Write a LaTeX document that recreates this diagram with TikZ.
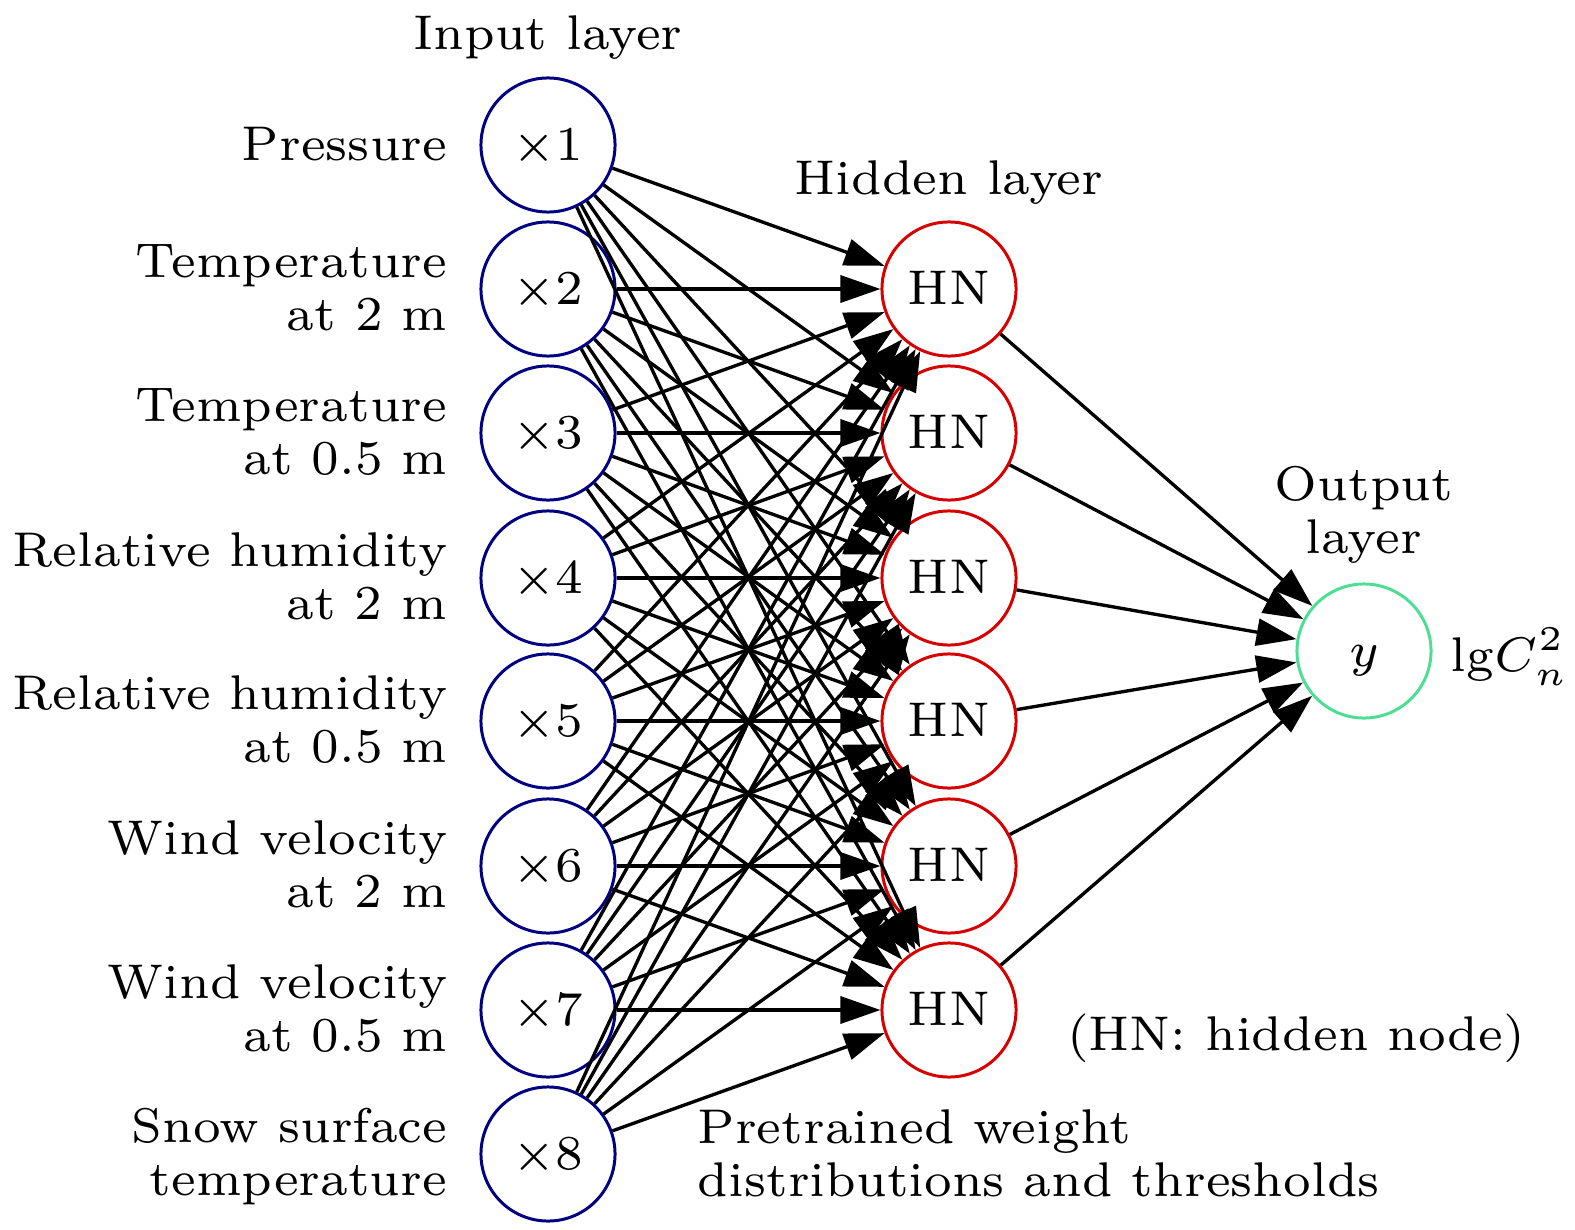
\documentclass[tikz,border=0pt]{standalone}
\usepackage{graphicx}
\usetikzlibrary{arrows.meta}
\definecolor{innavy}{RGB}{0,0,128}
\definecolor{hidred}{RGB}{215,0,0}
\definecolor{outgreen}{RGB}{77,222,148}
\newcommand\sctext[2][c]{\scalebox{1.98}{\fontsize{7}{7.63}\selectfont\begin{tabular}{@{}#1@{}}#2\end{tabular}}}
\begin{document}
\begin{tikzpicture}[x=0.01cm,y=-0.01cm,
  neuron/.style={circle,draw,line width=0.85pt,minimum size=1.34cm,inner sep=0pt},
  innode/.style={neuron,draw=innavy},
  hidnode/.style={neuron,draw=hidred},
  outnode/.style={neuron,draw=outgreen},
  txt/.style={inner sep=0pt,yshift=-0.045cm},
  lab/.style={txt,anchor=east},
  conn/.style={line width=0.95pt,-{Triangle[length=0.40cm,width=0.27cm]}}]
\useasboundingbox (0,0) rectangle (1575,1230);
% nodes
\foreach \i/\y in {1/145,2/289,3/433,4/578,5/721,6/866,7/1010,8/1154}{
  \node[innode] (x\i) at (548,\y) {};
  \node[txt] (xt\i) at (x\i.center) {\sctext{$\times\i$}};}
\foreach \i/\y in {1/289,2/433,3/578,4/721,5/866,6/1010}{
  \node[hidnode] (h\i) at (949,\y) {};
  \node[txt] (ht\i) at (h\i.center) {\sctext{HN}};}
\node[outnode] (y) at (1364,651) {};
\node[txt] (yt) at (y.center) {\sctext{$y$}};
% labels
\node[lab] (l1) at (448,145) {\sctext[r]{Pressure}};
\node[lab] (l2) at (448,289) {\sctext[r]{Temperature\\at 2 m}};
\node[lab] (l3) at (448,433) {\sctext[r]{Temperature\\at 0.5 m}};
\node[lab] (l4) at (448,578) {\sctext[r]{Relative humidity\\at 2 m}};
\node[lab] (l5) at (448,721) {\sctext[r]{Relative humidity\\at 0.5 m}};
\node[lab] (l6) at (448,866) {\sctext[r]{Wind velocity\\at 2 m}};
\node[lab] (l7) at (448,1010) {\sctext[r]{Wind velocity\\at 0.5 m}};
\node[lab] (l8) at (448,1154) {\sctext[r]{Snow surface\\temperature}};
\node[txt] (tin) at (548,34) {\sctext{Input layer}};
\node[txt] (thid) at (949,179) {\sctext{Hidden layer}};
\node[txt] (tout) at (1364,512) {\sctext{Output\\layer}};
\node[txt,anchor=west] (tlg) at (1450,653) {\sctext{$\mathrm{lg}C_n^2$}};
\node[txt] (thn) at (1296,1035) {\sctext{(HN: hidden node)}};
\node[txt,anchor=west] (tpre) at (697,1155) {\sctext[l]{Pretrained weight\\distributions and thresholds}};
% connectors
\foreach \i in {1,...,8}
  \foreach \j in {1,...,6}
    \draw[conn] (x\i) -- (h\j);
\foreach \j in {1,...,6}
  \draw[conn] (h\j) -- (y);
\end{tikzpicture}
\end{document}
